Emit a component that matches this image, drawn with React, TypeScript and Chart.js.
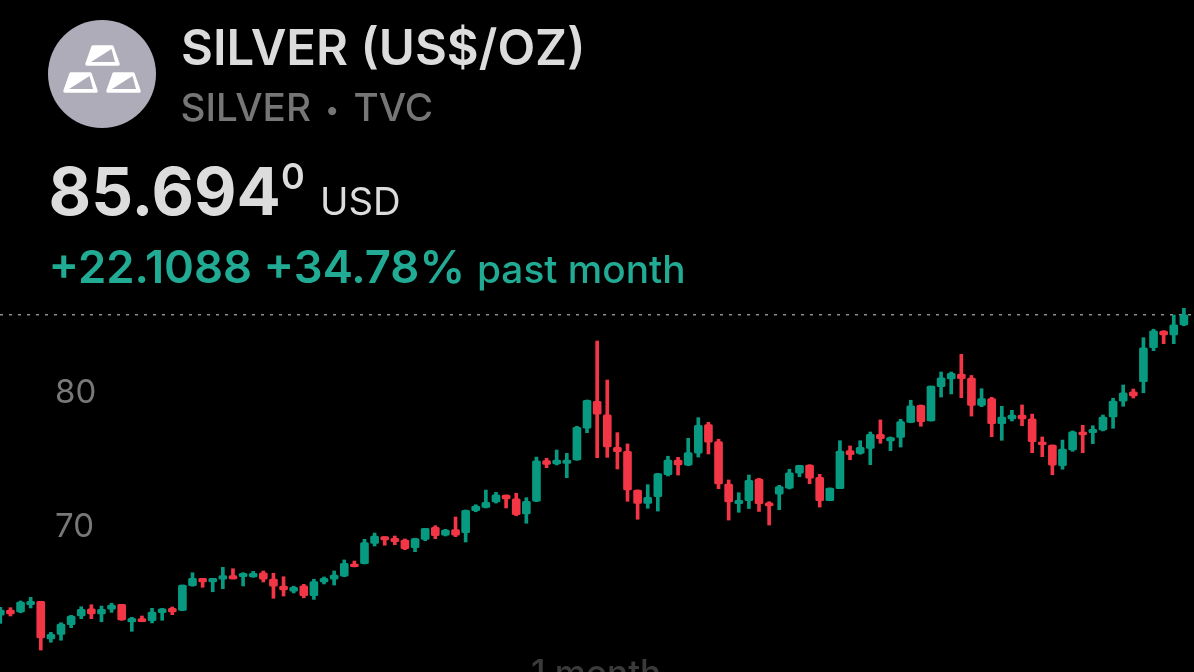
import React, { useEffect, useRef } from "react";
import { Chart, registerables } from "chart.js";

Chart.register(...registerables);

const opens = [63.28,63.66,63.51,64.05,64.31,61.49,61.84,62.56,63.21,63.75,63.36,63.71,64.08,62.76,63.01,62.86,63.45,63.78,63.63,65.47,66.02,65.75,65.95,66.22,66.14,66.12,66.44,65.97,65.45,65.07,65.47,64.72,65.75,65.95,66.19,67.09,67.11,68.63,69.13,69.01,68.88,68.31,68.93,69.83,69.25,69.65,69.43,71.07,71.32,71.72,72.24,71.96,70.82,71.77,74.80,74.55,74.60,74.85,77.22,79.23,78.23,75.80,75.50,72.61,71.62,72.11,73.75,74.85,74.46,75.37,77.49,76.22,73.06,71.59,71.81,73.43,71.66,72.31,72.74,73.86,74.48,73.56,71.81,72.71,75.55,75.35,75.72,76.77,76.27,76.54,77.66,78.93,77.76,80.32,80.90,81.27,80.97,78.93,79.43,77.56,77.91,78.21,77.93,76.19,75.97,74.43,75.60,76.94,76.89,77.09,78.06,79.25,79.93,80.69,83.23,84.48,84.18,84.93];
const highs = [63.86,63.83,64.33,64.60,64.31,61.99,62.71,63.26,63.90,64.05,63.95,64.16,64.08,63.11,63.21,63.78,63.78,63.88,65.52,66.44,66.02,66.02,66.84,66.74,66.44,66.54,66.57,66.40,66.14,65.43,65.57,65.95,66.12,66.57,67.39,67.31,68.93,69.40,69.13,69.18,68.96,69.01,69.75,69.95,69.68,70.60,71.12,71.51,72.61,72.44,72.24,72.37,72.04,75.07,74.98,75.60,75.35,77.37,79.33,83.73,80.82,76.89,76.05,72.61,73.01,73.86,75.13,75.05,76.47,78.01,77.66,76.40,73.36,72.41,73.73,73.49,71.74,72.96,74.16,74.46,74.50,73.78,72.76,76.29,75.90,76.29,76.94,77.84,76.57,77.89,79.31,78.96,80.37,81.42,81.42,82.74,81.16,80.17,79.53,78.86,78.56,78.96,78.28,76.57,75.97,76.34,77.02,77.44,77.41,78.21,79.46,80.45,80.15,83.98,84.61,84.50,85.67,86.17];
const lows = [62.66,63.21,63.45,63.81,60.67,61.25,61.40,62.34,63.01,63.01,62.78,63.48,62.89,62.07,62.78,62.69,62.89,63.31,63.60,65.43,65.35,65.02,65.25,65.97,65.45,66.10,65.75,64.53,64.70,64.93,64.57,64.45,65.60,65.52,66.14,66.87,67.09,68.43,68.49,68.53,68.16,68.01,68.83,68.98,69.18,69.13,68.73,70.99,71.27,71.64,71.27,70.69,70.13,71.74,74.28,74.48,73.53,74.83,76.89,75.02,75.05,74.18,71.77,70.43,71.25,71.04,73.66,73.73,74.43,75.07,75.30,72.71,70.37,70.95,71.23,71.01,70.00,71.14,72.69,73.60,73.08,71.34,71.81,72.71,74.87,75.28,74.50,76.10,75.55,75.82,77.63,77.37,77.76,79.55,79.78,79.50,78.13,78.83,76.59,76.32,77.76,77.41,75.40,75.10,73.75,74.16,75.50,75.40,76.07,77.02,77.22,78.86,79.48,79.87,83.01,83.53,83.53,84.87];
const closes = [63.66,63.36,64.25,64.31,61.57,61.84,62.61,63.21,63.71,63.36,63.71,64.03,62.91,63.04,62.78,63.51,63.75,63.51,65.52,66.02,65.75,66.02,66.22,65.97,66.40,66.40,65.95,65.43,65.15,65.35,64.72,65.77,66.02,66.27,67.14,66.89,68.68,69.18,68.88,68.75,68.23,68.98,69.75,69.20,69.63,69.25,71.10,71.42,71.69,72.26,71.94,70.77,71.77,74.78,74.53,74.85,74.85,77.29,79.31,78.28,75.82,75.47,72.61,71.62,72.07,73.83,74.85,74.48,75.40,77.44,76.19,73.06,71.72,71.84,73.34,71.60,71.42,72.86,73.90,74.46,73.49,71.81,72.76,75.52,75.25,75.80,76.77,76.44,76.52,77.71,78.90,77.71,80.37,80.99,81.32,80.92,78.93,79.43,77.56,78.06,78.21,77.91,76.22,75.99,74.46,75.67,76.96,76.72,77.14,78.06,79.25,79.87,79.63,83.23,84.50,84.18,84.93,85.69];
const yTickValues = [70, 80];
const lastPrice = 85.694;

const UP = "#089981";
const DOWN = "#F23645";
const FONT = "Inter, 'Noto Sans', sans-serif";

const candleColors = opens.map((o, i) => (closes[i] >= o ? UP : DOWN));

function Label(props: { x: number; top: number; size: number; color: string; weight?: number; spacing?: number; children: React.ReactNode }) {
  return (
    <div
      style={{
        position: "absolute",
        left: props.x,
        top: props.top,
        fontFamily: FONT,
        fontSize: props.size,
        lineHeight: 1,
        color: props.color,
        fontWeight: props.weight ?? 400,
        letterSpacing: props.spacing ?? 0,
        whiteSpace: "nowrap",
      }}
    >
      {props.children}
    </div>
  );
}

function Ingot({ dx, dy }: { dx: number; dy: number }) {
  return (
    <g transform={`translate(${dx} ${dy})`}>
      <path d="M8 2 H27 L33 19 H2 Z" fill="#ffffff" stroke="#ffffff" strokeWidth="3.5" strokeLinejoin="round" />
      <path d="M26.5 4 L30 17 H6 Z" fill="#aeacb9" />
    </g>
  );
}

export default function App() {
  const ref = useRef<HTMLCanvasElement | null>(null);

  useEffect(() => {
    if (!ref.current) return;
    const chart = new Chart(ref.current, {
      type: "bar",
      data: {
        datasets: [
          {
            type: "line",
            data: [
              { x: -0.03, y: lastPrice },
              { x: 118, y: lastPrice },
            ],
            borderColor: "#8c8c8c",
            borderWidth: 1.5,
            borderDash: [3, 6],
            pointRadius: 0,
            order: 3,
          },
          {
            type: "bar",
            data: opens.map((_, i) => ({ x: i, y: [lows[i], highs[i]] })),
            backgroundColor: candleColors,
            barThickness: 3,
            grouped: false,
            order: 2,
          },
          {
            type: "bar",
            data: opens.map((o, i) => ({ x: i, y: [o, closes[i]] })),
            backgroundColor: candleColors,
            barThickness: 8,
            borderRadius: 1.5,
            borderSkipped: false,
            grouped: false,
            order: 1,
          },
        ],
      } as any,
      options: {
        animation: false,
        responsive: false,
        maintainAspectRatio: false,
        events: [],
        layout: { padding: 0, autoPadding: false },
        plugins: { legend: { display: false }, tooltip: { enabled: false }, title: { display: false } },
        scales: {
          x: { type: "linear", display: false, min: -0.03, max: 118, offset: false },
          y: {
            type: "linear",
            position: "left",
            min: 59.03,
            max: 109.18,
            grid: { display: false, drawTicks: false },
            border: { display: false },
            afterBuildTicks: (scale: any) => {
              scale.ticks = yTickValues.map((value) => ({ value }));
            },
            afterFit: (scale: any) => {
              scale.paddingTop = 0;
              scale.paddingBottom = 0;
              scale.width = 0;
            },
            ticks: {
              mirror: true,
              padding: 55,
              labelOffset: 2,
              color: "#787878",
              font: { family: "Inter", size: 33 },
            },
          },
        },
      } as any,
    });
    return () => chart.destroy();
  }, []);

  return (
    <div style={{ position: "fixed", left: 0, top: 0, width: 1194, height: 672, background: "#000", overflow: "hidden" }}>
      <canvas ref={ref} width={1194} height={672} style={{ position: "absolute", left: 0, top: 0, display: "block" }} />
      <svg width={108} height={108} style={{ position: "absolute", left: 48, top: 20 }}>
        <circle cx={54} cy={54} r={54} fill="#aeacb9" />
        <Ingot dx={37} dy={25} />
        <Ingot dx={15} dy={52} />
        <Ingot dx={58} dy={52} />
      </svg>
      <Label x={181} top={22.5} size={49.1} color="#dcdcdc" weight={600}>SILVER (US$/OZ)</Label>
      <Label x={180.5} top={87.5} size={38.7} color="#767676" weight={500}>SILVER <span style={{ fontSize: 26, verticalAlign: "2px", margin: "0 4px" }}>•</span> TVC</Label>
      <Label x={48.5} top={159} size={65.5} color="#dcdcdc" weight={700}>85.694</Label>
      <Label x={281} top={157.5} size={36} color="#dcdcdc" weight={600}>0</Label>
      <Label x={320} top={182} size={38.3} color="#dcdcdc">USD</Label>
      <Label x={48.5} top={243.5} size={45.4} color="#22AB94" weight={600}>+22.1088 +34.78%</Label>
      <Label x={477} top={250} size={38.8} color="#22AB94" weight={500}>past month</Label>
      <Label x={531} top={654.5} size={35} color="#3a3a3a" weight={500}>1 month</Label>
    </div>
  );
}
